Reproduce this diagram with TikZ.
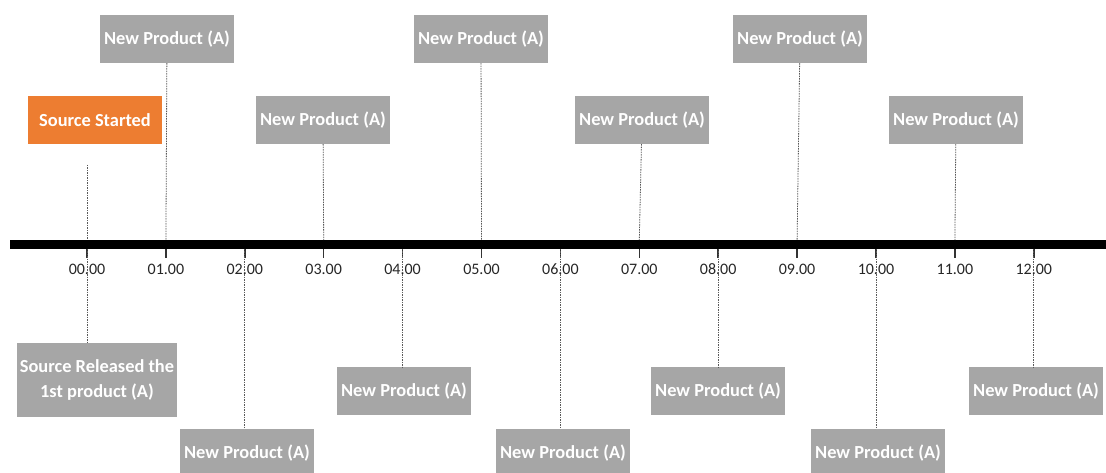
\documentclass[tikz,border=0pt]{standalone}
\usepackage{fontspec}
\setmainfont{Carlito}
\usetikzlibrary{positioning}
\definecolor{boxgray}{HTML}{A6A6A6}
\definecolor{srcorange}{HTML}{ED7D31}

\begin{document}
\begin{tikzpicture}[
        x = 1pt, y = -1pt, % one unit per pixel, y runs downwards
        every node/.style = {inner sep = 0pt},
        eventbox/.style = {
            fill = boxgray,
            text = white,
            font = \fontsize{18.4}{25}\selectfont\bfseries,
            minimum width = 134pt,
            minimum height = 48pt,
            align = center
        },
        startbox/.style = {eventbox, fill = srcorange},
        hourlabel/.style = {font = \fontsize{16}{18}\selectfont, text = black!85},
        hourtick/.style = {black!80, line width = 1.5pt},
        guide/.style = {black!65, line width = 0.8pt, dash pattern = on 1.5pt off 1pt}
    ]

    \useasboundingbox (0,0) rectangle (1106,473);

    % time axis
    \draw[line width = 9pt] (10,244.5) -- (1106,244.5);

    \foreach \i/\h in {0/00,1/01,2/02,3/03,4/04,5/05,6/06,7/07,8/08,9/09,10/10,11/11,12/12} {
        \coordinate (t\i) at ({87+78.9*\i},240);
        \coordinate (b\i) at ({87+78.9*\i},249);
        \draw[hourtick] (b\i) -- ++(0,9);
        \node[hourlabel] (h\i) at ({87+78.9*\i},269) {\h.00};
    }

    % events above the axis
    \node[startbox] (start) at (95,120) {Source Started};
    \coordinate (s0) at (87,165);
    \node[eventbox] (n1) at (167,39) {New Product (A)};
    \node[eventbox] (n3) at (323,120) {New Product (A)};
    \node[eventbox] (n5) at (481,39) {New Product (A)};
    \node[eventbox] (n7) at (642,120) {New Product (A)};
    \node[eventbox] (n9) at (800,39) {New Product (A)};
    \node[eventbox] (n11) at (956,120) {New Product (A)};

    % events below the axis
    \node[eventbox, minimum width = 160pt, minimum height = 74pt] (rel) at (97,380) {Source Released the\\1st product (A)};
    \node[eventbox] (n2) at (247,453) {New Product (A)};
    \node[eventbox] (n4) at (404,391) {New Product (A)};
    \node[eventbox] (n6) at (563,453) {New Product (A)};
    \node[eventbox] (n8) at (718,391) {New Product (A)};
    \node[eventbox] (n10) at (878,453) {New Product (A)};
    \node[eventbox] (n12) at (1036,391) {New Product (A)};

    % guide lines
    \draw[guide] (s0) -- (t0);
    \draw[guide] (n1) -- (t1);
    \draw[guide] (n3) -- (t3);
    \draw[guide] (n5) -- (t5);
    \draw[guide] (n7) -- (t7);
    \draw[guide] (n9) -- (t9);
    \draw[guide] (n11) -- (t11);

    \draw[guide] (b0) -- (b0 |- rel.north);
    \draw[guide] (b2) -- (b2 |- n2.north);
    \draw[guide] (b4) -- (b4 |- n4.north);
    \draw[guide] (b6) -- (b6 |- n6.north);
    \draw[guide] (b8) -- (b8 |- n8.north);
    \draw[guide] (b10) -- (b10 |- n10.north);
    \draw[guide] (b12) -- (b12 |- n12.north);
\end{tikzpicture}
\end{document}
